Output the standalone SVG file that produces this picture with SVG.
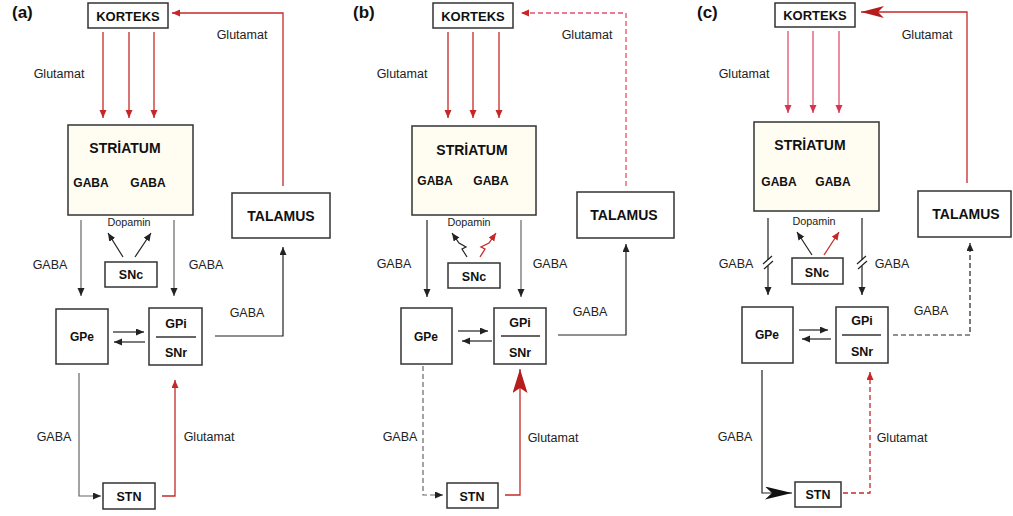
<svg xmlns="http://www.w3.org/2000/svg" width="1013" height="516" viewBox="0 0 1013 516">
<defs>
<style>
.bx{fill:#fff;stroke:#333;stroke-width:1.5}
.st{fill:#fffdf2;stroke:#333;stroke-width:1.5}
.bt{font-family:"Liberation Sans",Arial,sans-serif;font-weight:bold;fill:#111;text-anchor:middle}
.lb{font-family:"Liberation Sans",Arial,sans-serif;font-size:12.5px;fill:#222;text-anchor:middle}
.dp{font-family:"Liberation Sans",Arial,sans-serif;font-size:10.8px;fill:#222;text-anchor:middle}
.pl{font-family:"Liberation Sans",Arial,sans-serif;font-weight:bold;font-size:17px;fill:#111}
.k{fill:none;stroke:#222;stroke-width:1.2}
.g{fill:none;stroke:#666;stroke-width:1.2}
.r{fill:none;stroke:#c62828;stroke-width:1.3}
.p{fill:none;stroke:#e2506c;stroke-width:1.3}
.dash{stroke-dasharray:5,3}
</style>
<marker id="ak" markerUnits="userSpaceOnUse" markerWidth="10" markerHeight="8" refX="8" refY="3.5" orient="auto"><path d="M0,0 L8,3.5 L0,7 z" fill="#222"/></marker>
<marker id="ar" markerUnits="userSpaceOnUse" markerWidth="10" markerHeight="8" refX="8" refY="3.5" orient="auto"><path d="M0,0 L8,3.5 L0,7 z" fill="#c62828"/></marker>
<marker id="ap" markerUnits="userSpaceOnUse" markerWidth="10" markerHeight="8" refX="8" refY="3.5" orient="auto"><path d="M0,0 L8,3.5 L0,7 z" fill="#d8344f"/></marker>
<marker id="arBig" markerUnits="userSpaceOnUse" markerWidth="26" markerHeight="16" refX="24" refY="7.5" orient="auto"><path d="M0,0 L24,7.5 L0,15 L5,7.5 z" fill="#b71c1c"/></marker>
<marker id="arC" markerUnits="userSpaceOnUse" markerWidth="25" markerHeight="13" refX="23" refY="6" orient="auto"><path d="M0,0 L23,6 L0,12 L6,6 z" fill="#b71c1c"/></marker>
<marker id="akBig" markerUnits="userSpaceOnUse" markerWidth="29" markerHeight="14" refX="27" refY="6.5" orient="auto"><path d="M0,0 L27,6.5 L0,13 L7,6.5 z" fill="#111"/></marker>
</defs>
<rect width="1013" height="516" fill="#fff"/>

<!-- ================= PANEL A ================= -->
<g id="panel-a">
<text class="pl" x="12" y="18">(a)</text>
<g id="a-korteks"><rect class="bx" x="88" y="3" width="80" height="25"/><text class="bt" x="128" y="21" font-size="13">KORTEKS</text></g>
<g id="a-striatum"><rect class="st" x="68" y="125" width="125" height="90"/><text class="bt" x="125" y="153" font-size="14">STRİATUM</text><text class="bt" x="91" y="187" font-size="12">GABA</text><text class="bt" x="148" y="187" font-size="12">GABA</text></g>
<g id="a-snc"><rect class="bx" x="105" y="262" width="52" height="25"/><text class="bt" x="131" y="279" font-size="12.5">SNc</text></g>
<g id="a-talamus"><rect class="bx" x="232" y="193" width="98" height="45"/><text class="bt" x="281" y="221" font-size="14">TALAMUS</text></g>
<g id="a-gpe"><rect class="bx" x="56" y="309" width="52" height="55"/><text class="bt" x="82" y="341" font-size="12">GPe</text></g>
<g id="a-gpi"><rect class="bx" x="149" y="308" width="53" height="57"/><text class="bt" x="176" y="328" font-size="12.5">GPi</text><line x1="156" y1="337" x2="196" y2="337" stroke="#333" stroke-width="1.3"/><text class="bt" x="176" y="357" font-size="12.5">SNr</text></g>
<g id="a-stn"><rect class="bx" x="103" y="483" width="52" height="26"/><text class="bt" x="129" y="501" font-size="12.5">STN</text></g>
<g id="a-connectors">
<path class="r" d="M283,186 V13 H172" marker-end="url(#ar)"/>
<path class="r" d="M103,32 V118" marker-end="url(#ar)"/>
<path class="r" d="M129,32 V118" marker-end="url(#ar)"/>
<path class="r" d="M154,32 V118" marker-end="url(#ar)"/>
<path class="g" d="M81,220 V296" stroke="#556" marker-end="url(#ak)"/>
<path class="g" d="M174,220 V296" marker-end="url(#ak)"/>
<path class="k" d="M123,257 L108,233" marker-end="url(#ak)"/>
<path class="k" d="M135,257 L151,233" marker-end="url(#ak)"/>
<path class="k" d="M113,332 H144" marker-end="url(#ak)"/>
<path class="k" d="M145,342 H114" marker-end="url(#ak)"/>
<path class="k" d="M215,336 H283 V247" marker-end="url(#ak)"/>
<path class="g" d="M79,373 V496 H101" marker-end="url(#ak)"/>
<path class="r" d="M162,496 H175 V380" marker-end="url(#ar)"/>
</g>
<g id="a-labels">
<text class="lb" x="242" y="39">Glutamat</text>
<text class="lb" x="59" y="78">Glutamat</text>
<text class="dp" x="129" y="226">Dopamin</text>
<text class="lb" x="50" y="269">GABA</text>
<text class="lb" x="206" y="269">GABA</text>
<text class="lb" x="247" y="317">GABA</text>
<text class="lb" x="54" y="441">GABA</text>
<text class="lb" x="209" y="441">Glutamat</text>
</g>
</g>

<!-- ================= PANEL B ================= -->
<g id="panel-b">
<text class="pl" x="353" y="18">(b)</text>
<g id="b-korteks"><rect class="bx" x="433" y="3" width="80" height="25"/><text class="bt" x="473" y="21" font-size="13">KORTEKS</text></g>
<g id="b-striatum"><rect class="st" x="412" y="126" width="124" height="89"/><text class="bt" x="472" y="155" font-size="14">STRİATUM</text><text class="bt" x="435" y="185" font-size="12">GABA</text><text class="bt" x="491" y="185" font-size="12">GABA</text></g>
<g id="b-snc"><rect class="bx" x="448" y="263" width="52" height="25"/><text class="bt" x="474" y="281" font-size="12.5">SNc</text></g>
<g id="b-talamus"><rect class="bx" x="577" y="192" width="97" height="46"/><text class="bt" x="624" y="220" font-size="14">TALAMUS</text></g>
<g id="b-gpe"><rect class="bx" x="401" y="308" width="51" height="56"/><text class="bt" x="426" y="341" font-size="12">GPe</text></g>
<g id="b-gpi"><rect class="bx" x="494" y="308" width="52" height="56"/><text class="bt" x="520" y="327" font-size="12.5">GPi</text><line x1="501" y1="336" x2="540" y2="336" stroke="#333" stroke-width="1.3"/><text class="bt" x="520" y="357" font-size="12.5">SNr</text></g>
<g id="b-stn"><rect class="bx" x="447" y="483" width="51" height="25"/><text class="bt" x="472" y="501" font-size="12.5">STN</text></g>
<g id="b-connectors">
<path class="p dash" d="M626,186 V13 H521" stroke="#e07090" marker-end="url(#ar)"/>
<path class="r" d="M448,32 V118" marker-end="url(#ar)"/>
<path class="r" d="M473,32 V118" stroke="#b77" marker-end="url(#ar)"/>
<path class="r" d="M499,32 V118" marker-end="url(#ar)"/>
<path class="k" d="M427,220 V297" stroke-width="2" marker-end="url(#ak)"/>
<path class="g" d="M521,220 V297" marker-end="url(#ak)"/>
<path class="k" d="M467,257 L462,249 L466,247 L459,243 L452,233" marker-end="url(#ak)"/>
<path class="r" d="M480,257 L485,249 L481,247 L489,243 L496,233" marker-end="url(#ar)"/>
<path class="k" d="M458,331 H488" marker-end="url(#ak)"/>
<path class="k" d="M492,341 H462" marker-end="url(#ak)"/>
<path class="k" d="M558,335 H626 V244" stroke-width="2.5" stroke="#111" marker-end="url(#ak)"/>
<path class="g dash" d="M423,366 V495 H443" marker-end="url(#ak)"/>
<path class="r" d="M505,495 H520 V369" stroke-width="2.2" stroke="#b71c1c" marker-end="url(#arBig)"/>
</g>
<g id="b-labels">
<text class="lb" x="587" y="39">Glutamat</text>
<text class="lb" x="402" y="78">Glutamat</text>
<text class="dp" x="469" y="226">Dopamin</text>
<text class="lb" x="394" y="268">GABA</text>
<text class="lb" x="550" y="268">GABA</text>
<text class="lb" x="590" y="316">GABA</text>
<text class="lb" x="400" y="441">GABA</text>
<text class="lb" x="553" y="442">Glutamat</text>
</g>
</g>

<!-- ================= PANEL C ================= -->
<g id="panel-c">
<text class="pl" x="697" y="18">(c)</text>
<g id="c-korteks"><rect class="bx" x="775" y="3" width="80" height="24"/><text class="bt" x="815" y="20" font-size="13">KORTEKS</text></g>
<g id="c-striatum"><rect class="st" x="754" y="122" width="125" height="89"/><text class="bt" x="810" y="150" font-size="14">STRİATUM</text><text class="bt" x="779" y="186" font-size="12">GABA</text><text class="bt" x="833" y="186" font-size="12">GABA</text></g>
<g id="c-snc"><rect class="bx" x="792" y="258" width="51" height="26"/><text class="bt" x="817" y="277" font-size="12.5">SNc</text></g>
<g id="c-talamus"><rect class="bx" x="918" y="191" width="93" height="46"/><text class="bt" x="966" y="219" font-size="14">TALAMUS</text></g>
<g id="c-gpe"><rect class="bx" x="742" y="307" width="51" height="56"/><text class="bt" x="767" y="339" font-size="12">GPe</text></g>
<g id="c-gpi"><rect class="bx" x="836" y="307" width="52" height="56"/><text class="bt" x="862" y="325" font-size="12.5">GPi</text><line x1="842" y1="335" x2="881" y2="335" stroke="#333" stroke-width="1.3"/><text class="bt" x="862" y="356" font-size="12.5">SNr</text></g>
<g id="c-stn"><rect class="bx" x="795" y="482" width="46" height="25"/><text class="bt" x="818" y="499" font-size="12.5">STN</text></g>
<g id="c-connectors">
<path class="r" d="M967,183 V12 H861" stroke-width="2" stroke="#c2185b" marker-end="url(#arC)"/>
<path class="p" d="M788,31 V113" marker-end="url(#ap)"/>
<path class="p" d="M813,31 V113" marker-end="url(#ap)"/>
<path class="p" d="M839,31 V113" marker-end="url(#ap)"/>
<path class="k" d="M768,218 V260 M768,266 V295" marker-end="url(#ak)"/>
<path class="k" d="M763,264 L772,256 M764,269 L773,261"/>
<path class="k" d="M862,218 V260 M862,266 V295" marker-end="url(#ak)"/>
<path class="k" d="M857,264 L866,256 M858,269 L867,261"/>
<path class="k" d="M812,255 L797,232" marker-end="url(#ak)"/>
<path class="r" d="M824,255 L839,232" stroke="#d32f2f" marker-end="url(#ar)"/>
<path class="k" d="M799,330 H828" marker-end="url(#ak)"/>
<path class="k" d="M831,339 H802" stroke="#335" marker-end="url(#ak)"/>
<path class="k dash" d="M893,335 H970 V243" marker-end="url(#ak)"/>
<path class="k" d="M762,370 V493 H792" stroke-width="2" stroke="#111" marker-end="url(#akBig)"/>
<path class="r dash" d="M843,493 H870 V372" stroke="#c0504d" marker-end="url(#ar)"/>
</g>
<g id="c-labels">
<text class="lb" x="927" y="39">Glutamat</text>
<text class="lb" x="744" y="78">Glutamat</text>
<text class="dp" x="814" y="225">Dopamin</text>
<text class="lb" x="736" y="268">GABA</text>
<text class="lb" x="892" y="268">GABA</text>
<text class="lb" x="931" y="315">GABA</text>
<text class="lb" x="735" y="441">GABA</text>
<text class="lb" x="902" y="442">Glutamat</text>
</g>
</g>
</svg>
